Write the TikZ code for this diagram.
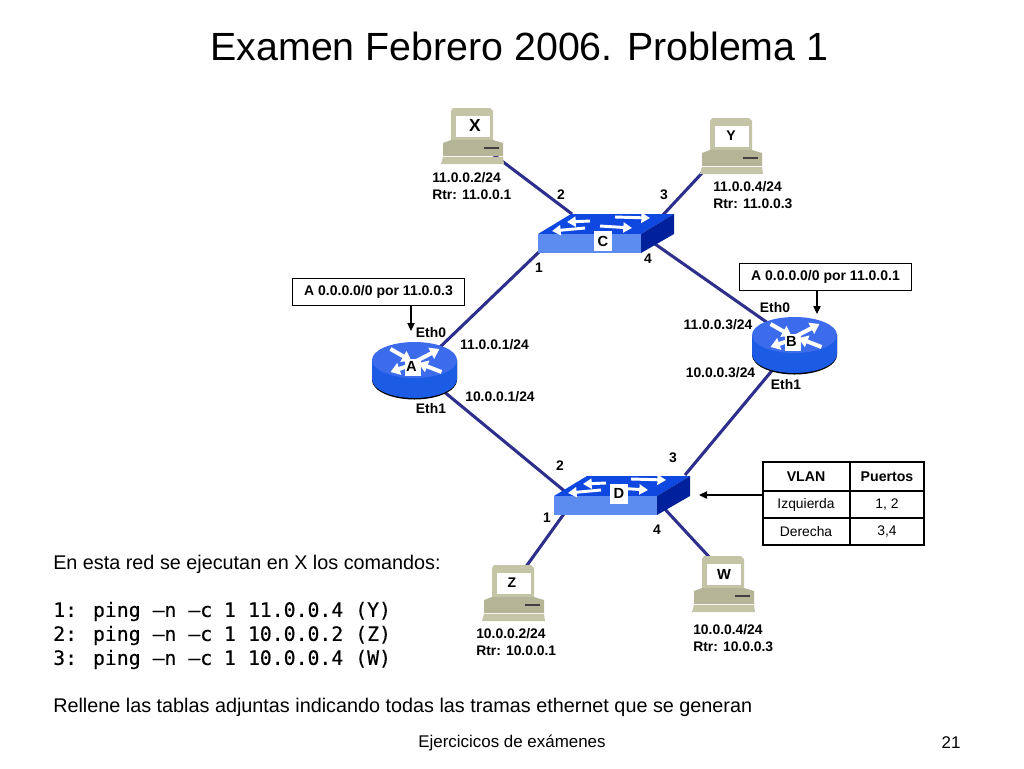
\documentclass[tikz,border=0pt]{standalone}
\usepackage{fontspec}
\setmainfont{Liberation Sans}
\newfontfamily\monofam[FakeBold=0.25]{DejaVu Sans Mono}
\usetikzlibrary{arrows.meta}
\definecolor{linkc}{HTML}{2E2E8C}
\definecolor{pcbody}{HTML}{B4B496}
\definecolor{pclight}{HTML}{C4C4A6}
\definecolor{rtop}{HTML}{3C6CEC}
\definecolor{rside}{HTML}{1C5CE4}
\definecolor{stop}{HTML}{0F48E0}
\definecolor{sfront}{HTML}{5C8CF0}
\definecolor{sside}{HTML}{00209C}
\newcommand\fsz[1]{\fontsize{#1}{#1}\selectfont}
\tikzset{
  x=.75pt,y=-.75pt,
  link/.style={draw=linkc,line width=2.3pt},
  lbl/.style={inner sep=0pt,font=\fsz{10.4}\bfseries},
  lblw/.style={lbl,anchor=west},
  title/.style={inner sep=0pt,font=\fsz{29.5}},
  body/.style={inner sep=0pt,anchor=west,font=\fsz{14.85}},
  code/.style={inner sep=0pt,anchor=west,font=\fsz{14.85}\monofam},
  foot/.style={inner sep=0pt,font=\fsz{12.7}},
  callout/.style={draw=black,line width=.7pt,fill=white,minimum width=129.5pt,minimum height=20.2pt,inner sep=0pt,font=\fsz{10.5}\bfseries},
  note/.style={-{Triangle[length=6pt,width=5.5pt]},draw=black,line width=.8pt},
  tabtxt/.style={inner sep=0pt,font=\fsz{10.4}},
  tabhead/.style={inner sep=0pt,font=\fsz{10.6}\bfseries},
  tabline/.style={draw=black,line width=.9pt},
  whitearrow/.style={draw=white,line width=2.2pt,-{Triangle[length=6.5pt,width=7.5pt]}},
  routerarrow/.style={draw=white,line width=3pt,-{Triangle[length=7pt,width=9pt]}},
}
\newcommand\pcicon[6]{% name, x, y, label, font size, label x
  \begin{scope}[shift={(#2,#3)}]
    \fill[pclight] (-19,0)--(18,0)--(21,3)--(21,32)--(-21,32)--(-21,3)--cycle;
    \fill[pcbody] (-21,32)--(21,32)--(31,35)--(31,48)--(-29,48)--(-29,35)--cycle;
    \fill[pclight] (-29,49)--(31,49)--(32,56)--(-31,56)--cycle;
    \fill[white] (-16,8) rectangle (18,29);
    \draw[black!75,line width=.8pt] (12,40)--(27,40);
    \node[inner sep=0pt,font=\fsz{#5}\bfseries] (#1) at (#6,18) {#4};
  \end{scope}}
\newcommand\switchicon[6]{% name, x, y, label, box centre x, box centre y
  \begin{scope}[shift={(#2,#3)}]
    \fill[stop] (0,0)--(33,-20)--(136,-20)--(103,0)--cycle;
    \fill[sfront] (0,0) rectangle (103,19);
    \fill[sside] (103,0)--(136,-20)--(136,0)--(103,19)--cycle;
    \draw[whitearrow] (52,-13)--(29,-12);
    \draw[whitearrow] (77,-17)--(112,-16);
    \draw[whitearrow] (47,-6)--(14,-3);
    \draw[whitearrow] (62,-8)--(94,-6);
    \fill[white] (#5-9,#6-10) rectangle (#5+9,#6+10);
    \node[inner sep=0pt,font=\fsz{11}\bfseries] (#1) at (#5,#6) {#4};
  \end{scope}}
\newcommand\routericon[4]{% name, x, y, label
  \begin{scope}[shift={(#2,#3)}]
    \fill[black] (-42.5,20) arc[start angle=180,end angle=0,x radius=42.5,y radius=19.5]--(42.5,0)--(-42.5,0)--cycle;
    \fill[rside] (-42.5,0)--(-42.5,19) arc[start angle=180,end angle=0,x radius=42.5,y radius=19]--(42.5,0)--cycle;
    \fill[rtop] (0,0) ellipse[x radius=42.5,y radius=18];
    \draw[routerarrow] (-24,-11)--(-3,1);
    \draw[routerarrow] (0,2)--(25,-11);
    \draw[routerarrow] (-4,5)--(-24,12);
    \draw[routerarrow] (27,12)--(4,3);
    \fill[white] (-10,-1) rectangle (6,16);
    \node[inner sep=0pt,font=\fsz{11}\bfseries] (#1) at (-3,6) {#4};
  \end{scope}}
\begin{document}
\begin{tikzpicture}
\useasboundingbox (0,0) rectangle (1024,768);
\fill[white] (0,0) rectangle (1024,768);

% link ends
\coordinate (pX) at (490,152);
\coordinate (pY) at (703,172);
\coordinate (pZ) at (520,575);
\coordinate (pW) at (712,560);
\coordinate (c2) at (572,214);
\coordinate (c3) at (662,216);
\coordinate (c1) at (540,251);
\coordinate (c4) at (650,240.5);
\coordinate (aE0) at (438,349);
\coordinate (aE1) at (440,388.4);
\coordinate (bE0) at (770,324.5);
\coordinate (bE1) at (775,367);
\coordinate (d2) at (566,492.3);
\coordinate (d3) at (685,475);
\coordinate (d1) at (566,511);
\coordinate (d4) at (662,506);

\draw[link] (pX)--(c2);
\draw[link] (pY)--(c3);
\draw[link] (aE0)--(c1);
\draw[link] (bE0)--(c4);
\draw[link] (aE1)--(d2);
\draw[link] (bE1)--(d3);
\draw[link] (pZ)--(d1);
\draw[link] (pW)--(d4);

\pcicon{X}{472}{108}{X}{13}{3}
\pcicon{Y}{731}{118}{Y}{10.5}{0}
\pcicon{Z}{513}{565}{Z}{10.5}{-1}
\pcicon{W}{723}{556}{W}{11}{1}
\switchicon{C}{538}{234}{C}{65}{7}
\switchicon{D}{554}{496}{D}{65}{-2.5}
\routericon{A}{414.5}{360}{A}
\routericon{B}{794.5}{335}{B}

% title
\node[title] (ttl) at (519.5,46) {Examen Febrero 2006. Problema 1};

% address labels
\node[lblw] (xa) at (432,178) {11.0.0.2/24};
\node[lblw] (xr) at (432,195) {Rtr: 11.0.0.1};
\node[lblw] (ya) at (713,187) {11.0.0.4/24};
\node[lblw] (yr) at (713,204) {Rtr: 11.0.0.3};
\node[lblw] (za) at (476,634) {10.0.0.2/24};
\node[lblw] (zr) at (476,651) {Rtr: 10.0.0.1};
\node[lblw] (wa) at (693,630) {10.0.0.4/24};
\node[lblw] (wr) at (693,647) {Rtr: 10.0.0.3};

% ports
\node[lbl] (c2l) at (561,195) {2};
\node[lbl] (c3l) at (664,195) {3};
\node[lbl] (c1l) at (539,268) {1};
\node[lbl] (c4l) at (648,259) {4};
\node[lbl] (d2l) at (560,466) {2};
\node[lbl] (d3l) at (673,458) {3};
\node[lbl] (d1l) at (547,518) {1};
\node[lbl] (d4l) at (657,530) {4};
\node[lbl] (a0l) at (431,333) {Eth0};
\node[lbl] (a1l) at (431,409) {Eth1};
\node[lbl] (aip0) at (494.5,345) {11.0.0.1/24};
\node[lbl] (aip1) at (500,397) {10.0.0.1/24};
\node[lbl] (b0l) at (775,308) {Eth0};
\node[lbl] (b1l) at (786,385) {Eth1};
\node[lbl] (bip0) at (718,325) {11.0.0.3/24};
\node[lbl] (bip1) at (720.5,373) {10.0.0.3/24};

% callouts
\node[callout] (ca) at (378.5,292) {A 0.0.0.0/0 por 11.0.0.3};
\node[callout] (cb) at (825.5,277) {A 0.0.0.0/0 por 11.0.0.1};
\coordinate (ta) at (411,331);
\coordinate (tb) at (817,314);
\draw[note] (ca.south -| ta)--(ta);
\draw[note] (cb.south -| tb)--(tb);

% VLAN table
\node[tabhead] (t11) at (806,477) {VLAN};
\node[tabhead] (t12) at (887,477) {Puertos};
\node[tabtxt] (t21) at (806,505) {Izquierda};
\node[tabtxt] (t22) at (887,505) {1, 2};
\node[tabtxt] (t31) at (806,532) {Derecha};
\node[tabtxt] (t32) at (887,532) {3,4};
\draw[tabline] (762,491)--(925,491) (762,518)--(925,518) (850,462)--(850,546);
\draw[black,line width=2pt] (763,462) rectangle (924,545);
\coordinate (tabl) at (762,495);
\coordinate (dsw) at (699,495);
\draw[note] (tabl)--(dsw);

% body text
\node[body] (b1) at (53,564.5) {En esta red se ejecutan en X los comandos:};
\node[code] (p1) at (53,611.5) {1: ping –n –c 1 11.0.0.4 (Y)};
\node[code] (p2) at (53,635.5) {2: ping –n –c 1 10.0.0.2 (Z)};
\node[code] (p3) at (53,659.5) {3: ping –n –c 1 10.0.0.4 (W)};
\node[body] (b2) at (53,707.5) {Rellene las tablas adjuntas indicando todas las tramas ethernet que se generan};
\node[foot] (f1) at (512,743) {Ejercicicos de exámenes};
\node[foot] (f2) at (951,743) {21};
\end{tikzpicture}
\end{document}
